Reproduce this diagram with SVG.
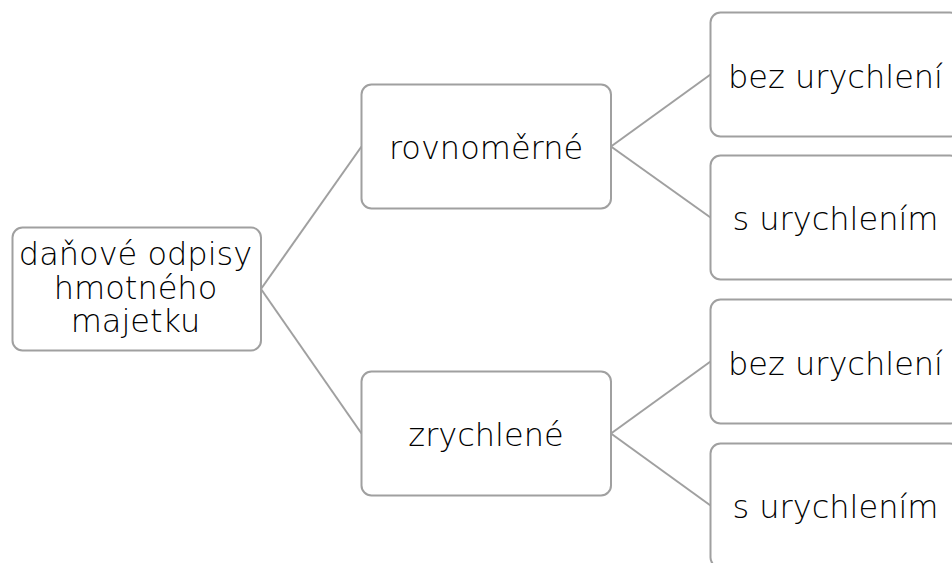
<svg xmlns="http://www.w3.org/2000/svg" width="952" height="563" viewBox="0 0 952 563">
  <style>
    .box { fill: #ffffff; stroke: #a0a0a0; stroke-width: 2; }
    .edge { fill: none; stroke: #a0a0a0; stroke-width: 2; }
    .label { font-family: "DejaVu Sans", "Liberation Sans", sans-serif; font-size: 32px; font-weight: 200; fill: #000000; text-anchor: middle; }
  </style>
  <rect width="952" height="563" fill="#ffffff"/>

  <!-- connectors -->
  <g id="connectors">
    <line class="edge" x1="261" y1="289" x2="361.5" y2="146.5"/>
    <line class="edge" x1="261" y1="289" x2="361.5" y2="433.5"/>
    <line class="edge" x1="611" y1="146.5" x2="710.5" y2="74.5"/>
    <line class="edge" x1="611" y1="146.5" x2="710.5" y2="217.5"/>
    <line class="edge" x1="611" y1="433.5" x2="710.5" y2="361.5"/>
    <line class="edge" x1="611" y1="433.5" x2="710.5" y2="505.5"/>
  </g>

  <!-- root -->
  <g id="root">
    <rect class="box" x="12.5" y="227.5" width="248.5" height="123" rx="10"/>
    <text class="label" x="135.5" y="265">daňové odpisy</text>
    <text class="label" x="135.5" y="298.5">hmotného</text>
    <text class="label" x="135.5" y="332">majetku</text>
  </g>

  <!-- second level -->
  <g id="rovnomerne">
    <rect class="box" x="361.5" y="84.5" width="249.5" height="124" rx="10"/>
    <text class="label" x="486" y="158.5">rovnoměrné</text>
  </g>
  <g id="zrychlene">
    <rect class="box" x="361.5" y="371.5" width="249.5" height="124" rx="10"/>
    <text class="label" x="486" y="446">zrychlené</text>
  </g>

  <!-- third level -->
  <g id="rovnomerne-bez">
    <rect class="box" x="710.5" y="12.5" width="249.5" height="124" rx="10"/>
    <text class="label" x="835.5" y="88">bez urychlení</text>
  </g>
  <g id="rovnomerne-s">
    <rect class="box" x="710.5" y="155.5" width="249.5" height="124" rx="10"/>
    <text class="label" x="835.5" y="230">s urychlením</text>
  </g>
  <g id="zrychlene-bez">
    <rect class="box" x="710.5" y="299.5" width="249.5" height="124" rx="10"/>
    <text class="label" x="835.5" y="375">bez urychlení</text>
  </g>
  <g id="zrychlene-s">
    <rect class="box" x="710.5" y="443.5" width="249.5" height="124" rx="10"/>
    <text class="label" x="835.5" y="518">s urychlením</text>
  </g>
</svg>
